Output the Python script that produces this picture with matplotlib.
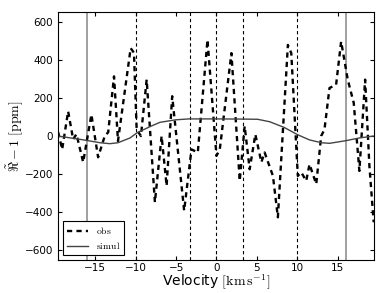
import numpy as np
import matplotlib
matplotlib.use('Agg')
import matplotlib.pyplot as plt

plt.rcParams['mathtext.fontset'] = 'cm'

vel_obs = [-19.59, -19.1, -18.36, -17.74, -17.33, -16.5, -15.48, -14.65, -13.83, -13.4,
           -12.68, -12.19, -10.62, -10.21, -9.88, -9.35, -8.64, -7.62, -6.79, -6.17,
           -5.48, -4.0, -3.09, -2.31, -1.11, 0.0, 0.41, 1.85, 2.88, 3.49,
           4.11, 4.81, 5.56, 5.96, 6.99, 7.6, 8.84, 9.26, 10.07, 10.49,
           11.11, 11.52, 12.35, 12.96, 13.37, 13.99, 14.81, 15.43, 16.25, 16.99,
           17.69, 18.4, 18.93, 19.46]
obs = [20, -70, 130, -17, 10, -137, 113, -111, 0, 20,
       313, -26, 461, 437, 35, 0, 296, -347, 0, -261,
       209, -391, -70, -86, 505, -104, -70, 435, -235, 52,
       -174, 9, -137, -86, -209, -426, 478, 435, -209, -190,
       -235, -148, -252, 0, 35, 252, 270, 496, 296, 174,
       -183, 296, -157, -452]

# simulated residual
vel_sim = [-19.6, -16.9, -14.4, -13.2, -12.2, -10.7, -9.8, -8.2, -7.0, -5.1,
           -3.4, 0.0, 3.4, 5.1, 6.6, 8.4, 10.0, 11.5, 13.0, 14.0,
           15.9, 17.7, 19.4]
sim = [0, -17, -35, -40, -35, -10, 18, 50, 72, 85,
       90, 90, 89, 88, 75, 45, 8, -20, -35, -38,
       -25, -10, 0]

v_solid = [-16, 16]
v_dashed = [-10, -3.3, 0, 3.3, 10]

fig = plt.figure(figsize=(3.9, 2.93), dpi=100)
ax = fig.add_axes([0.149, 0.1126, 0.81, 0.846])

for v in v_solid:
    ax.axvline(v, color='#999999', lw=1.3)
for v in v_dashed:
    ax.axvline(v, color='k', lw=0.8, ls=(0, (3, 2.5)))

ax.plot(vel_obs, obs, color='k', lw=1.7, ls=(0, (2.2, 1.8)), label=r'$\mathrm{obs}$')
ax.plot(vel_sim, sim, color='#444444', lw=1.0, label=r'$\mathrm{simul}$')

ax.set_xlim(-19.6, 19.5)
ax.set_ylim(-650, 650)
ax.set_xticks([-15, -10, -5, 0, 5, 10, 15])
ax.set_yticks([-600, -400, -200, 0, 200, 400, 600])
ax.tick_params(direction='in', top=True, right=True, labelsize=7.5, length=3)
ax.tick_params(axis='x', pad=2)
ax.set_xlabel(r'Velocity $[\mathrm{km\,s^{-1}}]$', fontsize=10, labelpad=0)
ax.set_ylabel(r'$\tilde{\Re}-1\ [\mathrm{ppm}]$', fontsize=10, labelpad=0)

leg = ax.legend(loc='lower left', fontsize=7, fancybox=False, edgecolor='k',
                framealpha=1, handlelength=2.2, borderpad=0.4, labelspacing=0.4)
leg.get_frame().set_linewidth(0.8)

fig.savefig('out.png', dpi=100)
